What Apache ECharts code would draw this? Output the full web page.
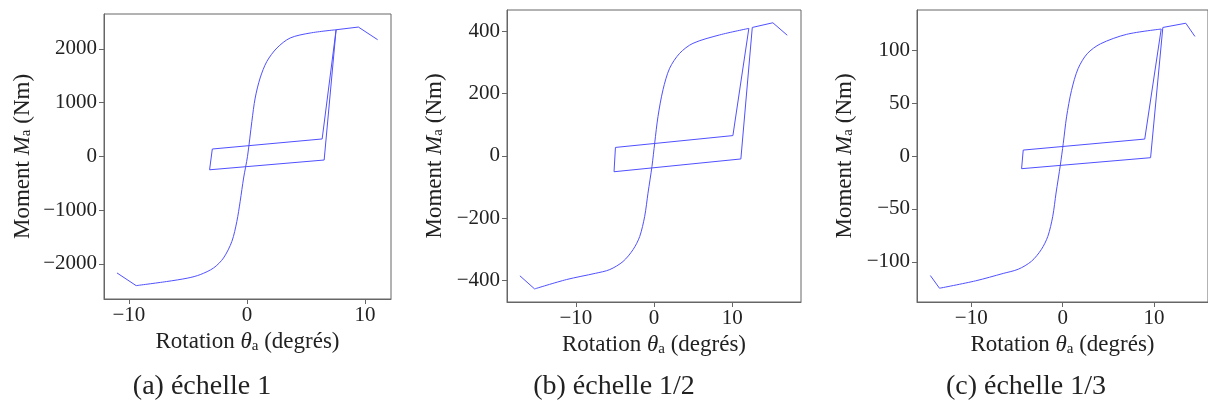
<!DOCTYPE html>
<html>
<head>
<meta charset="utf-8">
<script src="https://cdn.jsdelivr.net/npm/echarts@6/dist/echarts.min.js"></script>
<style>
html,body{margin:0;padding:0;overflow:hidden;background:#fff;}
#chart{width:1208px;height:405px;}
</style>
</head>
<body>
<div id="chart"></div>
<script>
// ---- data ----
// (a) échelle 1
const tailThetaA  = [-11.0, -9.38];
const tailMomentA = [-2170, -2406];
const boneThetaA  = [-9.38, -6.8, -5.0, -3.95, -2.82, -1.98, -1.27, -0.85, -0.57, -0.28, 0.05, 0.42, 0.70, 1.12, 1.69, 2.54, 3.66, 5.35, 7.55];
const boneMomentA = [-2406, -2330, -2265, -2201, -2077, -1891, -1581, -1209, -837, -403, 0, 651, 1086, 1459, 1767, 2017, 2203, 2296, 2357];
const loopThetaA  = [7.55, 6.37, -2.93, -3.16, 6.54, 7.55, 9.44, 11.07];
const loopMomentA = [2357, 324, 137, -250, -68, 2357, 2407, 2171];

// (b) échelle 1/2
const tailThetaB  = [-17.15, -15.27];
const tailMomentB = [-385, -427];
const boneThetaB  = [-15.27, -11.19, -7.5, -5.66, -3.96, -2.68, -1.83, -1.19, -0.77, -0.26, 0.09, 0.51, 1.15, 2.0, 3.28, 4.98, 8.39, 12.13];
const boneMomentB = [-427, -397, -377, -365, -339, -301, -259, -194, -120, -34, 41, 126, 212, 281, 329, 361, 388, 409];
const loopThetaB  = [12.13, 10.09, -4.93, -5.11, 11.11, 12.57, 15.2, 17.04];
const loopMomentB = [409, 65, 27, -51, -10, 412, 427, 387];

// (c) échelle 1/3
const tailThetaC  = [-14.47, -13.47];
const tailMomentC = [-113, -125];
const boneThetaC  = [-13.47, -9.52, -6.5, -4.85, -3.41, -2.34, -1.62, -1.08, -0.72, -0.25, 0.07, 0.43, 0.97, 1.69, 2.69, 4.13, 7.0, 10.78];
const boneMomentC = [-125, -118, -111, -107, -99.5, -88.5, -76, -57, -35, -8.5, 12, 37, 62, 82.6, 96.7, 106, 115, 120];
const loopThetaC  = [10.78, 8.98, -4.31, -4.49, 9.62, 10.96, 13.47, 14.47];
const loopMomentC = [120, 16, 5.6, -12, -1.6, 121.5, 125.5, 113];

const xTicks  = [-10, 0, 10];
const yTicksA = [-2000, -1000, 0, 1000, 2000];
const yTicksB = [-400, -200, 0, 200, 400];
const yTicksC = [-100, -50, 0, 50, 100];

const xRangeA = [-12.1, 12.2],  yRangeA = [-2655, 2650];
const xRangeB = [-18.8, 18.8],  yRangeB = [-469, 468];
const xRangeC = [-15.93, 15.9], yRangeC = [-138, 138];

const captions = ['(a) échelle 1', '(b) échelle 1/2', '(c) échelle 1/3'];

// ---- layout / style ----
const FONT = '"Liberation Serif", "DejaVu Serif", serif';
const TXT = '#222';
const AX = '#666';
const LINE = '#5050ff';
const fmt = v => (v < 0 ? '\u2212' + Math.abs(v) : String(v));
const pairs = (xs, ys) => xs.map((x, k) => [x, ys[k]]);

const panels = [
  {grid:{left:104, top:14, width:287, height:285}, xr:xRangeA, yr:yRangeA, yt:yTicksA,
   tail:pairs(tailThetaA, tailMomentA), bone:pairs(boneThetaA, boneMomentA), loop:pairs(loopThetaA, loopMomentA), ygap:70, cx:202},
  {grid:{left:507, top:10, width:294, height:292}, xr:xRangeB, yr:yRangeB, yt:yTicksB,
   tail:pairs(tailThetaB, tailMomentB), bone:pairs(boneThetaB, boneMomentB), loop:pairs(loopThetaB, loopMomentB), ygap:61, cx:614},
  {grid:{left:917, top:10, width:296, height:292}, xr:xRangeC, yr:yRangeC, yt:yTicksC,
   tail:pairs(tailThetaC, tailMomentC), bone:pairs(boneThetaC, boneMomentC), loop:pairs(loopThetaC, loopMomentC), ygap:61, cx:1026}
];

const richName = {
  r:{fontFamily:FONT, fontSize:23, color:TXT},
  i:{fontFamily:FONT, fontSize:23, color:TXT, fontStyle:'italic'},
  s:{fontFamily:FONT, fontSize:15, color:TXT, verticalAlign:'bottom', padding:[7,0,0,0]}
};

const option = {
  backgroundColor:'#fff',
  animation:false,
  grid:[], xAxis:[], yAxis:[], series:[],
  graphic: captions.map((c,i)=>({
    type:'text', x: panels[i].cx, y: 387,
    style:{text:c, font:'28px ' + FONT, fill:TXT, align:'center', verticalAlign:'middle'}
  }))
};

panels.forEach((p,i)=>{
  option.grid.push(Object.assign({show:true, borderColor:AX, borderWidth:1, backgroundColor:'transparent'}, p.grid));
  option.xAxis.push({
    type:'value', gridIndex:i, min:p.xr[0], max:p.xr[1], position:'bottom',
    axisLine:{show:true, onZero:false, lineStyle:{color:AX, width:1}}, splitLine:{show:false},
    axisTick:{show:true, inside:false, length:5, lineStyle:{color:AX, width:1}, customValues:xTicks},
    axisLabel:{customValues:xTicks, formatter:fmt, margin:6, fontFamily:FONT, fontSize:21, color:TXT},
    name:'{r|Rotation }{i|θ}{s|a}{r| (degrés)}', nameLocation:'middle', nameGap:26,
    nameTextStyle:{rich:richName}
  });
  option.yAxis.push({
    type:'value', gridIndex:i, min:p.yr[0], max:p.yr[1], position:'left',
    axisLine:{show:true, onZero:false, lineStyle:{color:AX, width:1}}, splitLine:{show:false},
    axisTick:{show:true, inside:false, length:5, lineStyle:{color:AX, width:1}, customValues:p.yt},
    axisLabel:{customValues:p.yt, formatter:fmt, margin:7, fontFamily:FONT, fontSize:21, color:TXT},
    name:'{r|Moment }{i|M}{s|a}{r| (Nm)}', nameLocation:'middle', nameGap:p.ygap, nameRotate:90,
    nameTextStyle:{rich:richName}
  });
  const base = {type:'line', xAxisIndex:i, yAxisIndex:i, showSymbol:false, symbol:'none',
                lineStyle:{color:LINE, width:1}, clip:true};
  option.series.push(Object.assign({}, base, {data:p.tail}));
  option.series.push(Object.assign({}, base, {data:p.bone, smooth:0.3}));
  option.series.push(Object.assign({}, base, {data:p.loop}));
});

const chart = echarts.init(document.getElementById('chart'), null, {renderer:'canvas'});
chart.setOption(option);
</script>
</body>
</html>
